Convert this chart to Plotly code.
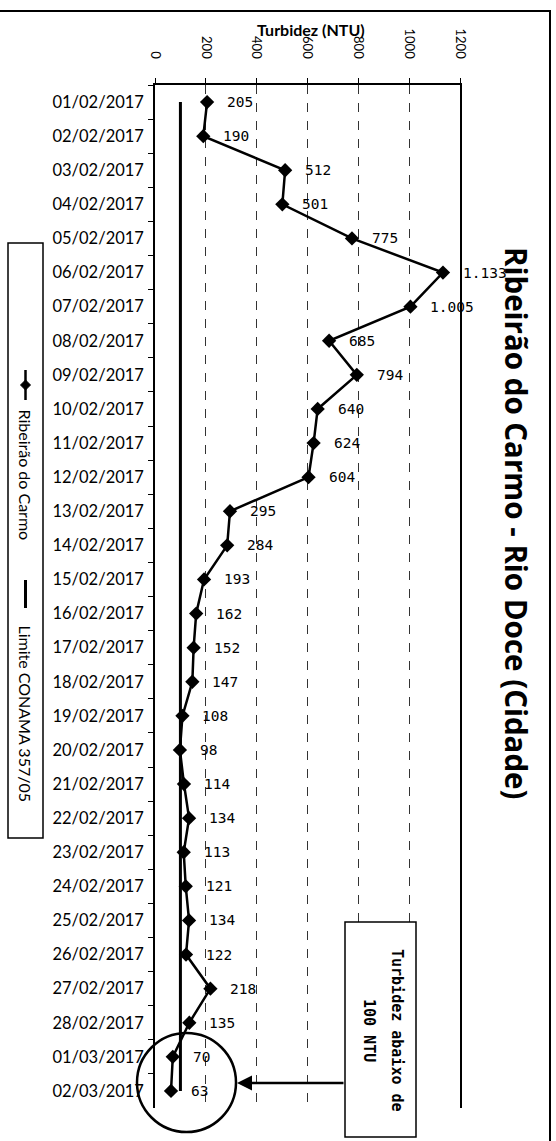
import plotly.graph_objects as go

dates = ["01/02/2017", "02/02/2017", "03/02/2017", "04/02/2017", "05/02/2017",
         "06/02/2017", "07/02/2017", "08/02/2017", "09/02/2017", "10/02/2017",
         "11/02/2017", "12/02/2017", "13/02/2017", "14/02/2017", "15/02/2017",
         "16/02/2017", "17/02/2017", "18/02/2017", "19/02/2017", "20/02/2017",
         "21/02/2017", "22/02/2017", "23/02/2017", "24/02/2017", "25/02/2017",
         "26/02/2017", "27/02/2017", "28/02/2017", "01/03/2017", "02/03/2017"]
turbidez = [205, 190, 512, 501, 775, 1133, 1005, 685, 794, 640,
            624, 604, 295, 284, 193, 162, 152, 147, 108, 98,
            114, 134, 113, 121, 134, 122, 218, 135, 70, 63]
limite = [100] * len(dates)
x_ticks = [0, 200, 400, 600, 800, 1000, 1200]

def fmt(v):
    return f"{v:,}".replace(",", ".")

W, H = 556, 1141
PL, PR, PT, PB = 155, 460, 85, 1108

def fx(p):
    return (p - PL) / (PR - PL)

def fy(p):
    return (PB - p) / (PB - PT)

fig = go.Figure()
fig.add_trace(go.Scatter(x=limite, y=dates, mode="lines", name="Limite CONAMA 357/05",
                         line=dict(color="black", width=3), showlegend=False))
fig.add_trace(go.Scatter(x=turbidez, y=dates, mode="lines+markers", name="Ribeirão do Carmo",
                         line=dict(color="black", width=2.5),
                         marker=dict(symbol="diamond", size=11, color="black"),
                         showlegend=False))

annotations = []
for d, v in zip(dates, turbidez):
    annotations.append(dict(x=v, y=d, xref="x", yref="y", text=fmt(v), showarrow=False,
                            xanchor="left", yanchor="middle", xshift=18,
                            font=dict(family="DejaVu Sans Mono", size=14.5, color="black")))

# axis title
annotations.append(dict(x=fx(311), y=fy(29), xref="paper", yref="paper", text="<b>Turbidez (NTU)</b>",
                        showarrow=False, xanchor="center", yanchor="middle",
                        font=dict(family="Lato", size=16, color="black")))
# chart title (rotated)
annotations.append(dict(x=fx(517), y=fy(523), xref="paper", yref="paper",
                        text="<b>Ribeirão do Carmo - Rio Doce (Cidade)</b>", textangle=90,
                        showarrow=False, xanchor="center", yanchor="middle",
                        font=dict(family="Open Sans", size=29.5, color="black")))
# legend texts
annotations.append(dict(x=fx(25.5), y=fy(475), xref="paper", yref="paper",
                        text="Ribeirão do Carmo", textangle=90, showarrow=False,
                        xanchor="center", yanchor="middle",
                        font=dict(family="Lato", size=16, color="black")))
annotations.append(dict(x=fx(25.5), y=fy(714), xref="paper", yref="paper",
                        text="Limite CONAMA 357/05", textangle=90, showarrow=False,
                        xanchor="center", yanchor="middle",
                        font=dict(family="Lato", size=16, color="black")))
# callout box text
annotations.append(dict(x=fx(397), y=fy(1030), xref="paper", yref="paper",
                        text="<b>Turbidez abaixo de</b>", textangle=90, showarrow=False,
                        xanchor="center", yanchor="middle",
                        font=dict(family="DejaVu Sans Mono", size=15, color="black")))
annotations.append(dict(x=fx(369), y=fy(1030), xref="paper", yref="paper",
                        text="<b>100 NTU</b>", textangle=90, showarrow=False,
                        xanchor="center", yanchor="middle",
                        font=dict(family="DejaVu Sans Mono", size=15, color="black")))
# arrow
annotations.append(dict(x=fx(237), y=fy(1083), xref="paper", yref="paper", text="",
                        showarrow=True, ax=108, ay=0, axref="pixel", ayref="pixel",
                        arrowhead=2, arrowsize=1.2, arrowwidth=2.5, arrowcolor="black"))

shapes = [
    # outer frame
    dict(type="rect", xref="paper", yref="paper", x0=fx(-5), x1=fx(550), y0=fy(1150), y1=fy(11),
         line=dict(color="black", width=2), layer="below"),
    # legend box
    dict(type="rect", xref="paper", yref="paper", x0=fx(8), x1=fx(43), y0=fy(838), y1=fy(243),
         line=dict(color="black", width=1.5)),
    # legend line series 1
    dict(type="line", xref="paper", yref="paper", x0=fx(25.5), x1=fx(25.5), y0=fy(370), y1=fy(400),
         line=dict(color="black", width=2.5)),
    dict(type="path", xref="paper", yref="paper",
         path=f"M {fx(25.5)} {fy(380)} L {fx(30.5)} {fy(385)} L {fx(25.5)} {fy(390)} L {fx(20.5)} {fy(385)} Z",
         fillcolor="black", line=dict(color="black", width=1)),
    # legend line series 2
    dict(type="line", xref="paper", yref="paper", x0=fx(25.5), x1=fx(25.5), y0=fy(580), y1=fy(608),
         line=dict(color="black", width=3)),
    # callout box
    dict(type="rect", xref="paper", yref="paper", x0=fx(345), x1=fx(416), y0=fy(1137), y1=fy(922),
         line=dict(color="black", width=1.5), fillcolor="white", layer="above"),
    # circle
    dict(type="circle", xref="paper", yref="paper", x0=fx(137), x1=fx(236), y0=fy(1132), y1=fy(1033),
         line=dict(color="black", width=2.5)),
]

fig.update_layout(
    width=W, height=H,
    margin=dict(l=PL, r=W - PR, t=PT, b=H - PB),
    paper_bgcolor="white", plot_bgcolor="white",
    showlegend=False,
    annotations=annotations,
    shapes=shapes,
    xaxis=dict(side="top", range=[0, 1200], tickvals=x_ticks, ticktext=[str(t) for t in x_ticks],
               tickangle=90, showgrid=True, gridcolor="#333", gridwidth=1, griddash="dash",
               zeroline=False, showline=True, linecolor="black", linewidth=1.5,
               ticks="outside", ticklen=5, tickcolor="black", ticklabelstandoff=15,
               automargin=False,
               tickfont=dict(family="Lato", size=13, color="black")),
    yaxis=dict(type="category", categoryorder="array", categoryarray=dates,
               range=[len(dates) - 0.5, -0.5], showgrid=False, zeroline=False,
               showline=True, linecolor="black", linewidth=1.5, mirror=True,
               ticks="outside", tickson="boundaries", ticklen=5, tickcolor="black",
               ticklabelstandoff=6, automargin=False,
               tickfont=dict(family="Lato", size=16.5, color="black")),
)

fig.write_html("out.html", config={"displayModeBar": False},
               post_script="document.body.style.margin='0';document.body.style.overflow='hidden';")
